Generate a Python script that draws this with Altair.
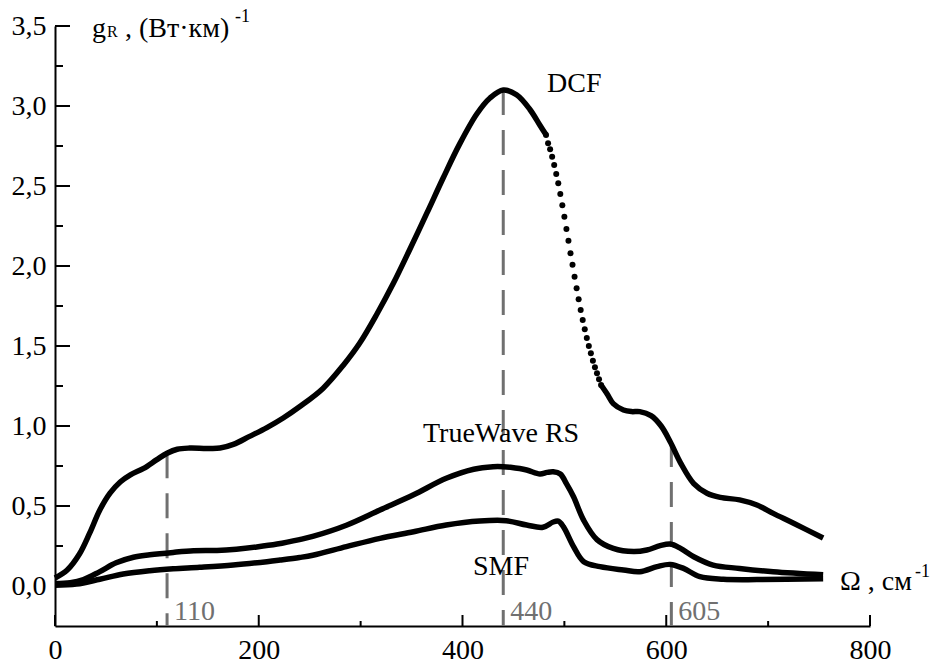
import altair as alt
import pandas as pd

FONT = "Liberation Serif, Times New Roman, serif"
GREY = "#707070"

# Raman gain spectra g_R(Omega), (W*km)^-1, against frequency shift, cm^-1
dcf_x = [0, 12, 24, 34, 44, 54, 64, 74, 87, 100, 110, 120, 132, 149, 162, 175,
         191, 208, 224, 240, 263, 283, 299, 316, 332, 348, 365, 381, 397, 414,
         427, 440, 453, 466, 476, 482]
dcf_y = [0.05, 0.10, 0.20, 0.33, 0.475, 0.58, 0.65, 0.695, 0.735, 0.79, 0.83,
         0.855, 0.862, 0.86, 0.862, 0.885, 0.935, 0.99, 1.05, 1.12, 1.235, 1.38,
         1.517, 1.70, 1.89, 2.10, 2.33, 2.55, 2.76, 2.95, 3.05, 3.10, 3.07, 2.98,
         2.88, 2.82]

# steep DCF flank, where the sampled points stand apart
dcf_dot_x = [482, 484, 486, 488, 490, 492, 494, 496, 498, 500, 502, 504, 506, 508,
             510, 512, 514, 516, 518, 520, 522, 524, 526, 528, 530, 532, 534, 536]
dcf_dot_y = [2.819, 2.767, 2.729, 2.683, 2.631, 2.575, 2.517, 2.450, 2.379, 2.308,
             2.231, 2.158, 2.079, 2.008, 1.933, 1.861, 1.792, 1.725, 1.663, 1.604,
             1.55, 1.50, 1.454, 1.408, 1.367, 1.329, 1.292, 1.256]

dcf_tail_x = [536, 542, 548, 558, 566, 574, 585, 595, 604, 614, 627, 640, 653,
              672, 689, 705, 725, 754]
dcf_tail_y = [1.256, 1.20, 1.14, 1.10, 1.09, 1.09, 1.065, 1.0, 0.90, 0.77, 0.64,
              0.58, 0.554, 0.538, 0.506, 0.454, 0.392, 0.30]

tw_x = [0, 15, 28, 44, 60, 77, 93, 116, 136, 159, 178, 198, 218, 240, 253, 286,
        319, 352, 384, 411, 430, 440, 447, 463, 476, 483, 489, 496, 502, 509, 519,
        532, 548, 568, 581, 594, 604, 614, 627, 646, 672, 705, 754]
tw_y = [0.015, 0.02, 0.04, 0.09, 0.145, 0.18, 0.195, 0.21, 0.22, 0.222, 0.23,
        0.244, 0.262, 0.29, 0.31, 0.38, 0.475, 0.57, 0.673, 0.73, 0.746, 0.746,
        0.742, 0.725, 0.70, 0.71, 0.714, 0.70, 0.64, 0.558, 0.41, 0.29, 0.235,
        0.215, 0.225, 0.252, 0.262, 0.235, 0.183, 0.131, 0.11, 0.089, 0.07]

smf_x = [0, 21, 44, 67, 93, 116, 142, 175, 208, 221, 240, 253, 286, 319, 352,
         384, 417, 443, 463, 479, 489, 494, 499, 509, 519, 535, 558, 574, 591,
         604, 617, 633, 656, 689, 754]
smf_y = [0.005, 0.012, 0.042, 0.075, 0.096, 0.108, 0.117, 0.131, 0.152, 0.162,
         0.178, 0.192, 0.246, 0.298, 0.339, 0.381, 0.406, 0.408, 0.381, 0.367,
         0.40, 0.405, 0.371, 0.246, 0.152, 0.121, 0.10, 0.089, 0.121, 0.135,
         0.11, 0.058, 0.042, 0.04, 0.045]

# marked Raman shifts
marker_x = [110, 440, 605]
marker_top = [0.83, 3.10, 0.90]
marker_label = ["110", "440", "605"]

# axis ticks
y_major = [0.0, 0.5, 1.0, 1.5, 2.0, 2.5, 3.0, 3.5]
y_minor = [0.25, 0.75, 1.25, 1.75, 2.25, 2.75, 3.25]
x_major = [0, 200, 400, 600, 800]
x_minor = [100, 300, 500, 700]

W, H = 815, 600

x_axis = alt.Axis(values=x_major, tickSize=0, labelFont=FONT, labelFontSize=28,
                  labelColor="black", labelPadding=10, labelFlush=False,
                  domainColor="black", domainWidth=2, grid=False, title=None)
y_axis = alt.Axis(values=y_major, tickSize=0, labelFont=FONT, labelFontSize=28,
                  labelColor="black", labelPadding=9, labelFlush=False,
                  labelExpr="replace(format(datum.value, '.1f'), '.', ',')",
                  domainColor="black", domainWidth=2, grid=False, title=None)
x_scale = alt.Scale(domain=[0, 800], nice=False, zero=False)
y_scale = alt.Scale(domain=[-0.25, 3.5], nice=False, zero=False)


def X(field="x"):
    return alt.X(f"{field}:Q", scale=x_scale, axis=x_axis)


def Y(field="y"):
    return alt.Y(f"{field}:Q", scale=y_scale, axis=y_axis)


def curve(xs, ys):
    return alt.Chart(pd.DataFrame({"x": xs, "y": ys})).mark_line(
        color="black", strokeWidth=5.5, interpolate="catmull-rom"
    ).encode(x=X(), y=Y())


def label(text, px, py, size=28, color="black"):
    return alt.Chart(pd.DataFrame({"t": [text]})).mark_text(
        font=FONT, fontSize=size, color=color, align="left", baseline="alphabetic"
    ).encode(x=alt.value(px), y=alt.value(py), text="t:N")


dcf_dots = alt.Chart(pd.DataFrame({"x": dcf_dot_x, "y": dcf_dot_y})).mark_circle(
    color="black", size=36, opacity=1
).encode(x=X(), y=Y())

markers = pd.DataFrame({"x": marker_x, "top": marker_top, "label": marker_label})
marker_rules = alt.Chart(markers).mark_rule(
    color=GREY, strokeWidth=3, strokeDash=[25, 15]
).encode(x=X(), y=Y("top"), y2=alt.value(H))
marker_text = alt.Chart(markers).mark_text(
    font=FONT, fontSize=28, color=GREY, align="left", baseline="alphabetic", dx=7
).encode(x=X(), y=alt.value(H - 6), text="label:N")

y_major_ticks = alt.Chart(pd.DataFrame({"y": y_major})).mark_rule(
    color="black", strokeWidth=2).encode(y=Y(), x=alt.value(0), x2=alt.value(15))
y_minor_ticks = alt.Chart(pd.DataFrame({"y": y_minor})).mark_rule(
    color="black", strokeWidth=2).encode(y=Y(), x=alt.value(0), x2=alt.value(8))
x_major_ticks = alt.Chart(pd.DataFrame({"x": x_major})).mark_rule(
    color="black", strokeWidth=2).encode(x=X(), y=alt.value(H), y2=alt.value(H - 11))
x_minor_ticks = alt.Chart(pd.DataFrame({"x": x_minor})).mark_rule(
    color="black", strokeWidth=2).encode(x=X(), y=alt.value(H), y2=alt.value(H - 5))

chart = alt.layer(
    marker_rules,
    marker_text,
    y_major_ticks, y_minor_ticks, x_major_ticks, x_minor_ticks,
    curve(smf_x, smf_y),
    curve(tw_x, tw_y),
    curve(dcf_x, dcf_y),
    dcf_dots,
    curve(dcf_tail_x, dcf_tail_y),
    label("DCF", 492, 66),
    label("TrueWave RS", 368, 416),
    label("SMF", 418, 549),
    label("g", 37, 11),
    label("R", 52, 11, size=16),
    label(", (Вт·км)", 70, 11),
    label("-1", 180, -4, size=18),
    label("Ω , см", 785, 564),
    label("-1", 860, 551, size=18),
).properties(
    width=W, height=H,
    autosize=alt.AutoSizeParams(type="none"),
    padding={"left": 55, "top": 26, "right": 61, "bottom": 42},
    background="white",
).configure_view(
    stroke=None
).configure_axis(
    labelFont=FONT
).configure_text(
    font=FONT
)

chart.save("out.html", embed_options={"renderer": "svg", "actions": False})
